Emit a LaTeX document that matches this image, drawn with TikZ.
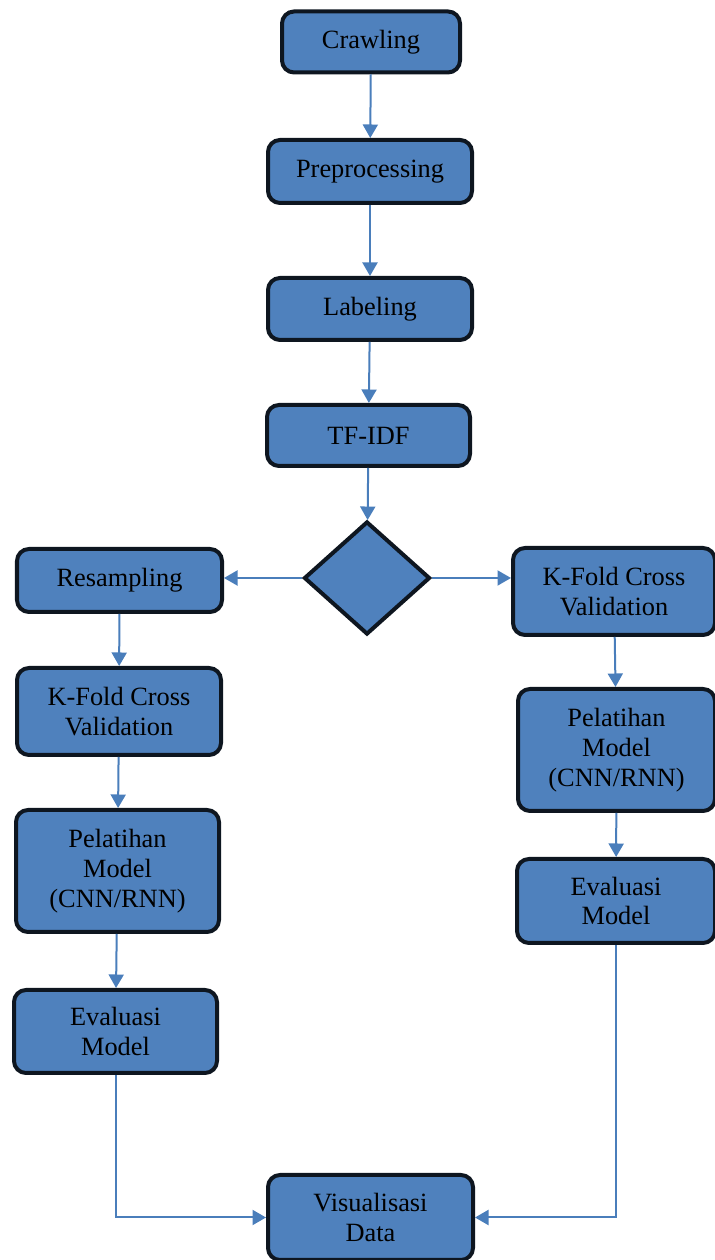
\documentclass[tikz,border=0pt]{standalone}
\usepackage{fontspec}
\setmainfont{Liberation Serif}
\usetikzlibrary{shapes.geometric, arrows.meta}

\definecolor{kotak}{HTML}{4F81BD}
\definecolor{garis}{HTML}{0E1620}
\definecolor{panah}{HTML}{4A7EBB}

\begin{document}
\begin{tikzpicture}[
	 proses/.style = {draw = garis, fill = kotak, line width = 0.08 cm, rounded corners = 0.24 cm, align = center, inner sep = 0 pt, font = \fontsize{15}{17}\selectfont},
	 keputusan/.style = {draw = garis, fill = kotak, line width = 0.08 cm, diamond, inner sep = 0 pt, minimum width = 2.52 cm, minimum height = 2.26 cm},
	 alur/.style = {draw = panah, line width = 0.04 cm, -{Triangle[length=0.27cm,width=0.3cm]}}
	 ]
	 \useasboundingbox (0, 0) rectangle (14.3, 25.2);
	 
	 \node[proses, minimum width = 3.56 cm, minimum height = 1.22 cm] (crawl) at (7.42, 24.36) {Crawling};
	 \node[proses, minimum width = 4.08 cm, minimum height = 1.26 cm] (prep) at (7.40, 21.77) {Preprocessing};
	 \node[proses, minimum width = 4.08 cm, minimum height = 1.24 cm] (label) at (7.40, 19.02) {Labeling};
	 \node[proses, minimum width = 4.06 cm, minimum height = 1.22 cm] (tfidf) at (7.37, 16.49) {TF-IDF};
	 
	 \node[keputusan] (cek) at (7.34, 13.64) {};
	 
	 \node[proses, minimum width = 4.10 cm, minimum height = 1.26 cm] (resamp) at (2.39, 13.59) {Resampling};
	 \node[proses, minimum width = 4.08 cm, minimum height = 1.74 cm] (kfoldL) at (2.38, 10.97) {K-Fold Cross\\Validation};
	 \node[proses, minimum width = 4.06 cm, minimum height = 2.44 cm] (latihL) at (2.35, 7.78) {Pelatihan\\Model\\(CNN/RNN)};
	 \node[proses, minimum width = 4.06 cm, minimum height = 1.66 cm] (evalL) at (2.31, 4.57) {Evaluasi\\Model};
	 
	 \node[proses, minimum width = 4.04 cm, minimum height = 1.74 cm] (kfoldR) at (12.28, 13.37) {K-Fold Cross\\Validation};
	 \node[proses, minimum width = 3.94 cm, minimum height = 2.44 cm] (latihR) at (12.33, 10.20) {Pelatihan\\Model\\(CNN/RNN)};
	 \node[proses, minimum width = 3.96 cm, minimum height = 1.68 cm] (evalR) at (12.32, 7.18) {Evaluasi\\Model};
	 
	 \node[proses, minimum width = 4.10 cm, minimum height = 1.70 cm] (visual) at (7.41, 0.85) {Visualisasi\\Data};
	 
	 \draw[alur] (crawl) -- (prep);
	 \draw[alur] (prep) -- (label);
	 \draw[alur] (label) -- (tfidf);
	 \draw[alur] (tfidf) -- (cek);
	 
	 \draw[alur] (cek.west) -- (cek.west -| resamp.east);
	 \draw[alur] (cek.east) -- (cek.east -| kfoldR.west);
	 
	 \draw[alur] (resamp) -- (kfoldL);
	 \draw[alur] (kfoldL) -- (latihL);
	 \draw[alur] (latihL) -- (evalL);
	 
	 \draw[alur] (kfoldR) -- (latihR);
	 \draw[alur] (latihR) -- (evalR);
	 
	 \draw[alur] (evalL.south) |- (visual.west);
	 \draw[alur] (evalR.south) |- (visual.east);
\end{tikzpicture}
\end{document}
